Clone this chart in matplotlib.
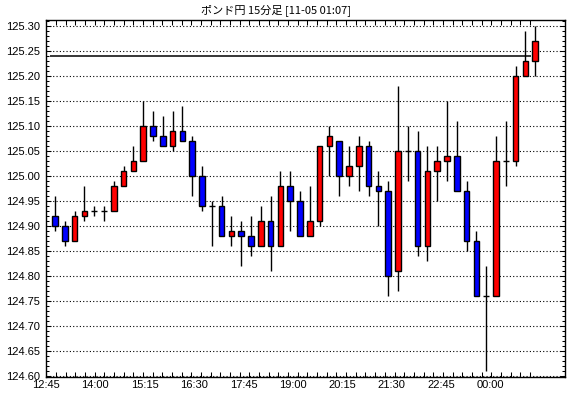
import numpy as np
import matplotlib
matplotlib.use('Agg')
import matplotlib.pyplot as plt
from matplotlib.ticker import MultipleLocator, FixedLocator

plt.rcParams['font.family'] = ['Liberation Sans', 'Noto Sans CJK JP', 'DejaVu Sans']

# 15分足 ポンド円 (12:45 .. 01:00)
opens = [124.92, 124.90, 124.87, 124.92, 124.93, 124.93, 124.93, 124.98, 125.01, 125.03,
         125.10, 125.08, 125.06, 125.09, 125.07, 125.00, 124.94, 124.94, 124.88, 124.89,
         124.88, 124.86, 124.91, 124.86, 124.98, 124.95, 124.88, 124.91, 125.06, 125.07,
         125.00, 125.02, 125.06, 124.98, 124.97, 124.81, 125.05, 125.05, 124.86, 125.01,
         125.03, 125.04, 124.97, 124.87, 124.76, 124.76, 125.03, 125.03, 125.20, 125.23]
highs = [124.96, 124.91, 124.93, 124.98, 124.94, 124.94, 124.99, 125.02, 125.06, 125.15,
         125.13, 125.12, 125.13, 125.14, 125.08, 125.02, 124.95, 124.96, 124.92, 124.91,
         124.92, 124.94, 124.96, 125.01, 125.01, 124.97, 124.98, 125.06, 125.10, 125.07,
         125.06, 125.08, 125.07, 125.01, 124.99, 125.18, 125.10, 125.09, 125.06, 125.06,
         125.15, 125.11, 124.99, 124.89, 124.82, 125.08, 125.11, 125.22, 125.29, 125.30]
lows = [124.89, 124.86, 124.87, 124.91, 124.92, 124.91, 124.93, 124.98, 125.01, 125.03,
        125.07, 125.06, 125.05, 125.07, 124.96, 124.93, 124.86, 124.88, 124.86, 124.82,
        124.84, 124.86, 124.81, 124.86, 124.89, 124.88, 124.88, 124.90, 125.00, 124.96,
        124.98, 124.97, 124.96, 124.90, 124.76, 124.77, 124.99, 124.84, 124.83, 124.95,
        124.99, 124.97, 124.85, 124.76, 124.61, 124.76, 124.98, 125.02, 125.20, 125.20]
closes = [124.90, 124.87, 124.92, 124.93, 124.93, 124.93, 124.98, 125.01, 125.03, 125.10,
          125.08, 125.06, 125.09, 125.07, 125.00, 124.94, 124.94, 124.88, 124.89, 124.88,
          124.86, 124.91, 124.86, 124.98, 124.95, 124.88, 124.91, 125.06, 125.08, 125.00,
          125.02, 125.06, 124.98, 124.97, 124.80, 125.05, 125.05, 124.86, 125.01, 125.03,
          125.04, 124.97, 124.87, 124.76, 124.76, 125.03, 125.03, 125.20, 125.23, 125.27]
time_labels = ['12:45', '14:00', '15:15', '16:30', '17:45', '19:00', '20:15', '21:30', '22:45', '00:00']
ref_price = 125.24

o = np.array(opens)
c = np.array(closes)
x = np.arange(len(o))

fig = plt.figure(figsize=(5.7, 3.98), dpi=100)
ax = fig.add_axes([0.0802, 0.0535, 0.9118, 0.8950])

# wicks
ax.vlines(x, lows, highs, color='black', lw=1, zorder=2)
# bodies
cols = np.where(c > o, '#ff0000', np.where(c < o, '#0000ff', 'black'))
ax.bar(x, np.abs(c - o), bottom=np.minimum(o, c), width=0.56, color=cols,
       edgecolor='black', linewidth=1, zorder=3)

ax.hlines(ref_price, -0.51, 48.57, color='black', lw=1.1, zorder=4)

ax.set_xlim(-0.95, 52.09)
ax.set_ylim(124.5986, 125.311)

ax.yaxis.set_major_locator(MultipleLocator(0.05))
ax.yaxis.set_minor_locator(MultipleLocator(0.01))
ax.yaxis.set_major_formatter(matplotlib.ticker.FormatStrFormatter('%.2f'))
ax.grid(axis='y', which='major', color='black', linestyle=(0, (1, 2)), lw=0.8)

ax.xaxis.set_major_locator(FixedLocator([5.04 * k - 0.92 for k in range(len(time_labels))]))
ax.set_xticklabels(time_labels)
ax.xaxis.set_minor_locator(FixedLocator([0.1 + 0.987 * k for k in range(len(o))]))

ax.tick_params(axis='x', which='major', length=0, pad=2.5, labelsize=8)
ax.tick_params(axis='x', which='minor', direction='in', length=3.6, width=0.75, top=True, bottom=True)
ax.tick_params(axis='y', which='major', direction='in', length=3.5, width=0.75,
               left=True, right=True, pad=4, labelsize=8)
ax.tick_params(axis='y', which='minor', direction='in', length=2, width=0.75, left=True, right=True)

for s in ax.spines.values():
    s.set_linewidth(1)

fig.text(276 / 570, 1 - 10 / 398, 'ポンド円 15分足 [11-05 01:07]', ha='center', va='center',
         fontsize=8, family=['Noto Sans CJK JP', 'DejaVu Sans'])

plt.savefig('out.png', dpi=100)
